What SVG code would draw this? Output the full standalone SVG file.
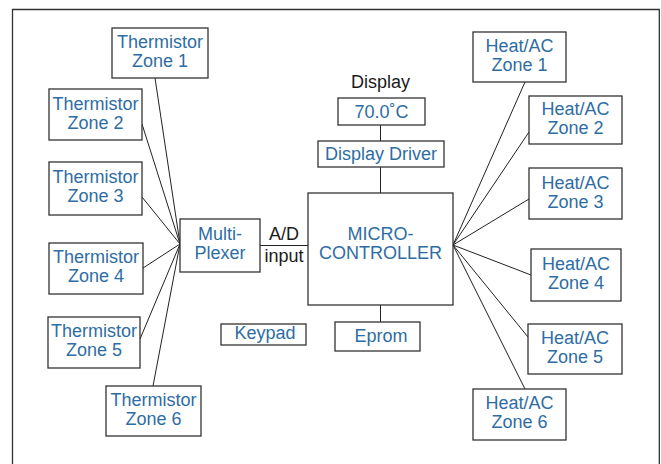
<svg xmlns="http://www.w3.org/2000/svg" width="661" height="464" viewBox="0 0 661 464">
  <style>
    .box { fill: #fff; stroke: #333; stroke-width: 1.3; }
    .wire { stroke: #222; stroke-width: 1; fill: none; }
    .lbl { font-family: "Liberation Sans", Arial, sans-serif; font-size: 18px; fill: #2e6da4; text-anchor: middle; }
    .note { font-family: "Liberation Sans", Arial, sans-serif; font-size: 18px; fill: #1a1a1a; text-anchor: middle; }
  </style>
  <rect width="661" height="464" fill="#fff"/>
  <!-- outer frame, open at the bottom -->
  <path d="M12.5 470 V9.5 H659.3 V470" fill="none" stroke="#333" stroke-width="1.3"/>

  <g id="connectors">
    <!-- thermistors into the multiplexer -->
    <line class="wire" x1="155" y1="78" x2="180" y2="244"/>
    <line class="wire" x1="142" y1="124" x2="180" y2="244"/>
    <line class="wire" x1="142" y1="197" x2="180" y2="244"/>
    <line class="wire" x1="143" y1="268" x2="180" y2="244"/>
    <line class="wire" x1="140" y1="339" x2="180" y2="244"/>
    <line class="wire" x1="153" y1="386" x2="180" y2="244"/>
    <!-- multiplexer to controller -->
    <line class="wire" x1="260" y1="245.5" x2="308" y2="245.5"/>
    <!-- display chain and eprom -->
    <line class="wire" x1="380.5" y1="125" x2="380.5" y2="141"/>
    <line class="wire" x1="380.5" y1="167" x2="380.5" y2="193"/>
    <line class="wire" x1="380.5" y1="305" x2="380.5" y2="322"/>
    <!-- controller out to heat/AC zones -->
    <line class="wire" x1="453" y1="245" x2="525" y2="82"/>
    <line class="wire" x1="453" y1="245" x2="529" y2="132"/>
    <line class="wire" x1="453" y1="245" x2="529" y2="199"/>
    <line class="wire" x1="453" y1="245" x2="531" y2="275"/>
    <line class="wire" x1="453" y1="245" x2="528" y2="337"/>
    <line class="wire" x1="453" y1="245" x2="525" y2="389"/>
  </g>

  <g id="therm1"><rect class="box" x="112" y="28" width="96" height="50"/><text class="lbl" x="160" y="48">Thermistor</text><text class="lbl" x="160" y="67">Zone 1</text></g>
  <g id="therm2"><rect class="box" x="49" y="89" width="93" height="51"/><text class="lbl" x="95.5" y="110">Thermistor</text><text class="lbl" x="95.5" y="129">Zone 2</text></g>
  <g id="therm3"><rect class="box" x="49" y="162" width="93" height="53"/><text class="lbl" x="95.5" y="183">Thermistor</text><text class="lbl" x="95.5" y="202">Zone 3</text></g>
  <g id="therm4"><rect class="box" x="49" y="243" width="94" height="51"/><text class="lbl" x="96" y="263">Thermistor</text><text class="lbl" x="96" y="282">Zone 4</text></g>
  <g id="therm5"><rect class="box" x="48" y="317" width="92" height="51"/><text class="lbl" x="94" y="337">Thermistor</text><text class="lbl" x="94" y="356">Zone 5</text></g>
  <g id="therm6"><rect class="box" x="106" y="386" width="95" height="50"/><text class="lbl" x="153.5" y="406">Thermistor</text><text class="lbl" x="153.5" y="425">Zone 6</text></g>

  <g id="mux"><rect class="box" x="180" y="219" width="80" height="53"/><text class="lbl" x="220" y="240">Multi-</text><text class="lbl" x="220" y="259">Plexer</text></g>
  <g id="adc-label"><text class="note" x="284" y="240">A/D</text><text class="note" x="284" y="262">input</text></g>

  <g id="mcu"><rect class="box" x="308" y="193" width="145" height="112"/><text class="lbl" x="380.5" y="240">MICRO-</text><text class="lbl" x="380.5" y="259">CONTROLLER</text></g>

  <g id="display"><text class="note" x="380.5" y="88">Display</text><rect class="box" x="338" y="98" width="87" height="27"/><text class="lbl" x="381.5" y="118">70.0˚C</text></g>
  <g id="driver"><rect class="box" x="318" y="141" width="126" height="26"/><text class="lbl" x="381" y="160">Display Driver</text></g>
  <g id="eprom"><rect class="box" x="335" y="322" width="85" height="29"/><text class="lbl" x="381" y="342">Eprom</text></g>
  <g id="keypad"><rect class="box" x="221" y="324" width="85" height="21"/><text class="lbl" x="265" y="339">Keypad</text></g>

  <g id="hvac1"><rect class="box" x="473" y="32" width="93" height="50"/><text class="lbl" x="519.5" y="52">Heat/AC</text><text class="lbl" x="519.5" y="71">Zone 1</text></g>
  <g id="hvac2"><rect class="box" x="529" y="96" width="93" height="48"/><text class="lbl" x="575.5" y="115">Heat/AC</text><text class="lbl" x="575.5" y="134">Zone 2</text></g>
  <g id="hvac3"><rect class="box" x="529" y="168" width="93" height="51"/><text class="lbl" x="575.5" y="189">Heat/AC</text><text class="lbl" x="575.5" y="208">Zone 3</text></g>
  <g id="hvac4"><rect class="box" x="531" y="249" width="90" height="52"/><text class="lbl" x="576" y="270">Heat/AC</text><text class="lbl" x="576" y="289">Zone 4</text></g>
  <g id="hvac5"><rect class="box" x="528" y="324" width="94" height="50"/><text class="lbl" x="575" y="344">Heat/AC</text><text class="lbl" x="575" y="363">Zone 5</text></g>
  <g id="hvac6"><rect class="box" x="473" y="389" width="93" height="51"/><text class="lbl" x="519.5" y="409">Heat/AC</text><text class="lbl" x="519.5" y="428">Zone 6</text></g>
</svg>
